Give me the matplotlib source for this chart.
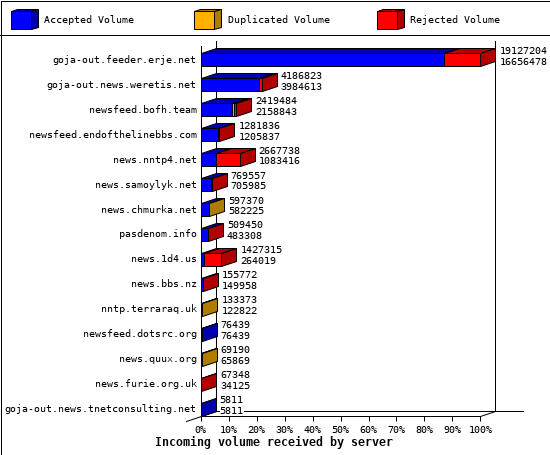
"""
Incoming volume per server, stacked 3D looking bars
"""

import matplotlib
matplotlib.use("Agg")
import matplotlib.pyplot as plt
from matplotlib.patches import Polygon, Rectangle

plt.rcParams['font.family'] = 'DejaVu Sans Mono'
plt.rcParams['text.hinting'] = 'native'

servers = ["goja-out.feeder.erje.net", "goja-out.news.weretis.net", "newsfeed.bofh.team",
           "newsfeed.endofthelinebbs.com", "news.nntp4.net", "news.samoylyk.net",
           "news.chmurka.net", "pasdenom.info", "news.1d4.us", "news.bbs.nz",
           "nntp.terraraq.uk", "newsfeed.dotsrc.org", "news.quux.org",
           "news.furie.org.uk", "goja-out.news.tnetconsulting.net"]
accepted = [16656478, 3984613, 2158843, 1205837, 1083416, 705985, 582225, 483308,
            264019, 149958, 122822, 76439, 65869, 34125, 5811]
duplicated = [0, 40000, 150000, 0, 0, 0, 15145, 0, 0, 0, 10551, 0, 3321, 0, 0]
rejected = [2470726, 162210, 110641, 75999, 1584322, 63572, 0, 26142,
            1163296, 5814, 0, 0, 0, 33223, 0]
totals = [19127204, 4186823, 2419484, 1281836, 2667738, 769557, 597370, 509450,
          1427315, 155772, 133373, 76439, 69190, 67348, 5811]
ticks = [0, 10, 20, 30, 40, 50, 60, 70, 80, 90, 100]
legend_names = ["Accepted Volume", "Duplicated Volume", "Rejected Volume"]

FRONT = ["#0000ff", "#ffb000", "#ff0000"]
DARK = ["#0000b0", "#b07c00", "#b00000"]
LW = 0.72
W, H = 550, 455
PITCH = 24.93
DX = 15 / 280 * 100   # depth in percent
DY = 5 / PITCH        # depth in rows
HALF = 6.5 / PITCH
PLOT_H = 370


def face(ax, pts, color, z):
  ax.add_patch(Polygon(pts, closed=True, facecolor=color, edgecolor="black", linewidth=LW,
                       snap=True, clip_on=False, zorder=z))


def line(ax, xs, ys):
  ax.plot(xs, ys, color="black", lw=LW, snap=True, clip_on=False, zorder=1)


fig = plt.figure(figsize=(W / 100, H / 100), dpi=100, facecolor="white")

# page frame, legend and title, in pixels
bg = fig.add_axes([0, 0, 1, 1])
bg.set_xlim(0, W)
bg.set_ylim(H, 0)
bg.axis("off")
bg.add_patch(Rectangle((0.5, 0.5), W - 1, H - 1, facecolor="none", edgecolor="black", linewidth=LW))
line(bg, [0, W], [35, 35])
for x0, name, c, d in zip([10.5, 193.5, 376.5], legend_names, FRONT, DARK):
  face(bg, [(x0, 10.5), (x0 + 6.5, 8.5), (x0 + 27, 8.5), (x0 + 20.5, 10.5)], d, 2)
  face(bg, [(x0 + 20.5, 10.5), (x0 + 27, 8.5), (x0 + 27, 26.5), (x0 + 20.5, 28.5)], d, 2)
  face(bg, [(x0, 10.5), (x0 + 20.5, 10.5), (x0 + 20.5, 28.5), (x0, 28.5)], c, 3)
  bg.text(x0 + 34, 20, name, fontsize=7.2, ha="left", va="center")
bg.text(274, 442.5, "Incoming volume received by server", fontsize=8.4, fontweight="bold",
        ha="center", va="center")

# front plane of the chart: 0-100% is 200..480 px, axis at y=415
ax = fig.add_axes([200.5 / W, 1 - 415.5 / H, 280 / W, PLOT_H / H])
ax.patch.set_alpha(0)
bottom = 14 + HALF
top = bottom - PLOT_H / PITCH
ax.set_xlim(0, 100)
ax.set_ylim(bottom, top)
for s in ["top", "right"]:
  ax.spines[s].set_visible(False)
for s in ["left", "bottom"]:
  ax.spines[s].set_linewidth(LW)
ax.set_xticks(ticks)
ax.set_xticklabels(["{}%".format(t) for t in ticks], fontsize=7.2)
ax.set_yticks([])
ax.tick_params(axis="x", length=3.9, width=LW, pad=3)

# back wall and floor
line(ax, [DX, DX], [bottom - DY, top - DY])
line(ax, [100 + DX, 100 + DX], [bottom - DY, top - DY])
line(ax, [DX, 115], [bottom - DY, bottom - DY])
line(ax, [-DX, DX], [bottom + DY, bottom - DY])
line(ax, [100, 100 + DX], [bottom, bottom - DY])

scale = 100 / max(totals)
for i, name in enumerate(servers):
  y0, y1 = i + HALF, i - HALF
  left = 0
  last = 0
  for k, vals in enumerate([accepted, duplicated, rejected]):
    if vals[i] == 0:
      continue
    right = left + vals[i] * scale
    face(ax, [(left, y1), (left + DX, y1 - DY), (right + DX, y1 - DY), (right, y1)], DARK[k], 3)
    face(ax, [(left, y0), (left, y1), (right, y1), (right, y0)], FRONT[k], 4)
    left = right
    last = k
  face(ax, [(left, y0), (left, y1), (left + DX, y1 - DY), (left + DX, y0 - DY)], DARK[last], 3)

  ax.text(-4 / 2.8, i, name, fontsize=7.2, ha="right", va="center", clip_on=False)
  tx = left + DX + 4 / 2.8
  for val, off in [(totals[i], 15.5), (accepted[i], 4.7)]:
    ax.text(tx, y0 - off / PITCH, str(val), fontsize=7.2, ha="left", va="center", zorder=5,
            bbox=dict(facecolor="white", edgecolor="none", pad=0))

fig.savefig("out.png", dpi=100)
